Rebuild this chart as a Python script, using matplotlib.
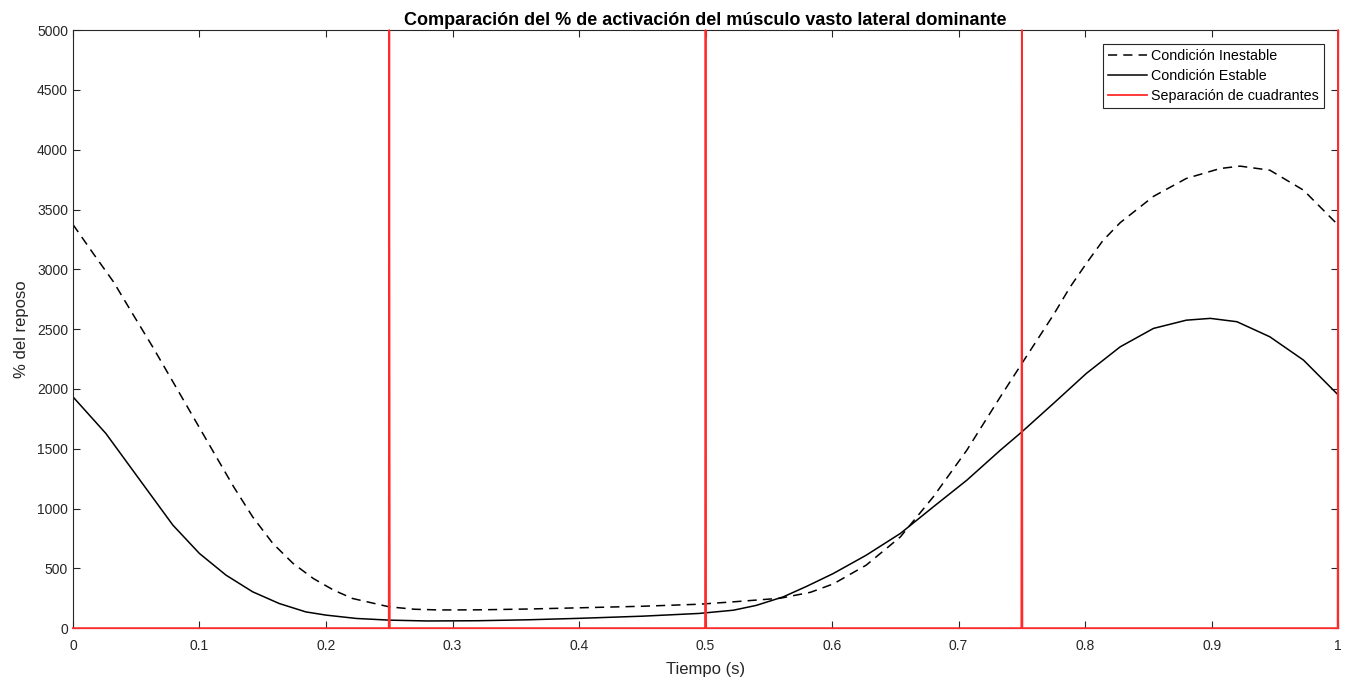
import numpy as np
import matplotlib.pyplot as plt

plt.rcParams['font.family'] = ['Liberation Sans', 'DejaVu Sans']

# Condicion inestable (linea discontinua)
t_ines = [0, 0.016, 0.032, 0.047, 0.063, 0.079, 0.095, 0.111, 0.127, 0.142,
          0.158, 0.174, 0.19, 0.206, 0.221, 0.25, 0.27, 0.29, 0.32, 0.36,
          0.4, 0.45, 0.495, 0.522, 0.559, 0.583, 0.601, 0.627, 0.654, 0.68,
          0.7065, 0.733, 0.75, 0.775, 0.788, 0.801, 0.814, 0.8277, 0.854,
          0.88, 0.9067, 0.9225, 0.946, 0.9726, 1.0]
inestable = [3375, 3133, 2896, 2631, 2352, 2060, 1767, 1474, 1182, 931,
             708, 541, 415, 318, 248, 178, 158, 152, 153, 160,
             170, 183, 200, 220, 250, 300, 370, 527, 763, 1098,
             1488, 1934, 2213, 2620, 2850, 3050, 3240, 3390, 3610,
             3760, 3843, 3863, 3829, 3662, 3370]

# Condicion estable (linea continua)
t_est = [0, 0.026, 0.053, 0.079, 0.1, 0.121, 0.142, 0.163, 0.184, 0.2,
         0.224, 0.25, 0.28, 0.32, 0.36, 0.4, 0.45, 0.495, 0.522, 0.54,
         0.5615, 0.58, 0.601, 0.627, 0.654, 0.68, 0.7065, 0.733, 0.75,
         0.775, 0.801, 0.8277, 0.854, 0.88, 0.899, 0.92, 0.946, 0.9726, 1.0]
estable = [1934, 1628, 1237, 861, 624, 443, 304, 206, 136, 109,
           81, 67, 60, 62, 70, 82, 100, 123, 150, 190,
           262, 350, 457, 610, 792, 1014, 1237, 1488, 1641,
           1879, 2130, 2352, 2506, 2575, 2590, 2562, 2436, 2241, 1950]

# separacion de cuadrantes (picos hasta el limite del eje)
cuadrantes = [0.25, 0.5, 0.75, 1.0]
pico = 5000

xs = [0.0]
ys = [0.0]
for c in cuadrantes:
    xs += [c - 0.0004, c, min(c + 0.0004, 1.0)]
    ys += [0, pico, 0]

fig, ax = plt.subplots(figsize=(13.51, 6.85), dpi=100)
fig.subplots_adjust(left=0.054, right=0.9905, top=0.956, bottom=0.083)

ax.plot(t_ines, inestable, color='black', linestyle=(0, (6, 4)), linewidth=1.1,
        label='Condición Inestable')
ax.plot(t_est, estable, color='black', linewidth=1.1, label='Condición Estable')
ax.plot(xs, ys, color='#ff2a2a', linewidth=1.3, zorder=3, clip_on=False,
        label='Separación de cuadrantes')

ax.set_xlim(0, 1)
ax.set_ylim(0, 5000)
ax.set_xticks(np.arange(0, 1.01, 0.1))
ax.set_xticklabels(['0', '0.1', '0.2', '0.3', '0.4', '0.5', '0.6', '0.7', '0.8', '0.9', '1'])
ax.set_yticks(np.arange(0, 5001, 500))
for s in ax.spines.values():
    s.set_color('#262626')
    s.set_linewidth(0.8)
ax.tick_params(direction='in', length=5, colors='#262626', labelsize=10, top=True, right=True)
ax.tick_params(axis='x', pad=8)

ax.set_title('Comparación del % de activación del músculo vasto lateral dominante',
             fontsize=13, fontweight='bold', pad=4)
ax.set_xlabel('Tiempo (s)', fontsize=12, color='#262626', labelpad=6)
ax.set_ylabel('% del reposo', fontsize=12, color='#262626', labelpad=6)

leg = ax.legend(loc='upper right', fontsize=10.3, fancybox=False, edgecolor='#262626',
                framealpha=1, borderpad=0.35, handlelength=2.7, handletextpad=0.3,
                labelspacing=0.4, borderaxespad=1.0)
leg.get_frame().set_linewidth(0.8)

fig.savefig('out.png', dpi=100)
